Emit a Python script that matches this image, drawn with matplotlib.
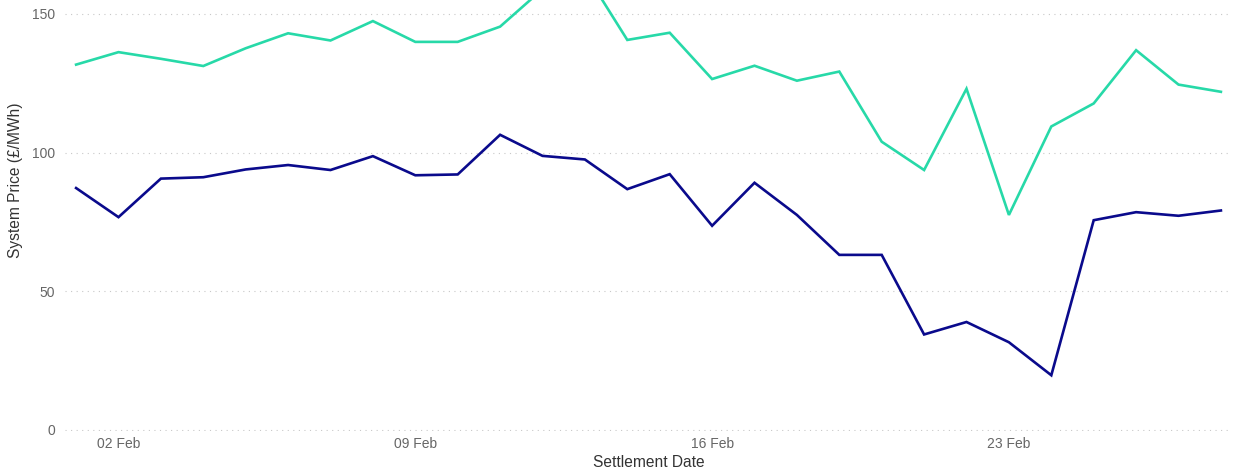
import pandas as pd
import matplotlib.pyplot as plt
import matplotlib.dates as mdates

plt.rcParams['font.family'] = ['Liberation Sans', 'DejaVu Sans']

# Daten: Systempreis pro Tag (Feb)
dates = pd.date_range("2024-02-01", "2024-02-28", freq="D")
upper = [131.7, 136.2, 133.8, 131.2, 137.6, 143.0, 140.4, 147.4, 139.9, 139.9,
         145.4, 158.9, 165.0, 140.6, 143.2, 126.5, 131.3, 125.9, 129.2, 103.9,
         93.7, 123.0, 77.5, 109.4, 117.7, 136.9, 124.5, 121.9]
lower = [87.2, 76.7, 90.6, 91.1, 93.9, 95.5, 93.7, 98.7, 91.8, 92.1,
         106.4, 98.8, 97.5, 86.8, 92.2, 73.6, 89.1, 77.5, 63.1, 63.1,
         34.4, 38.9, 31.6, 19.7, 75.6, 78.5, 77.2, 79.1]
yticks = [0, 50, 100, 150]

fig = plt.figure(figsize=(12.35, 4.7), dpi=100)
ax = fig.add_axes([0.0526, 0.083, 0.945, 0.917])

ax.plot(dates, upper, color="#27D9A8", linewidth=1.9, solid_joinstyle="miter")
ax.plot(dates, lower, color="#0A0A8C", linewidth=1.9, solid_joinstyle="miter")

ax.set_ylim(-0.4, 155)
pad = pd.Timedelta(hours=6.3)
ax.set_xlim(dates[0] - pad, dates[-1] + pad)
ax.set_yticks(yticks)
ax.yaxis.grid(True, linestyle=(0, (1, 4)), color="#c8c8c8", linewidth=0.8)
ax.set_axisbelow(True)

ax.xaxis.set_major_locator(mdates.DayLocator(bymonthday=[2, 9, 16, 23]))
ax.xaxis.set_major_formatter(mdates.DateFormatter("%d %b"))

for s in ax.spines.values():
    s.set_visible(False)
ax.tick_params(axis="both", length=0, labelsize=10, colors="#666666")
ax.tick_params(axis="x", pad=4)
ax.tick_params(axis="y", pad=7)

ax.set_xlabel("Settlement Date", fontsize=11.2, color="#333333", labelpad=3)
# y-Label sitzt etwas oberhalb der Mitte
fig.text(16 / 1235, 1 - 180 / 470, "System Price (£/MWh)", rotation=90,
         fontsize=11.2, color="#333333", ha="center", va="center")

fig.savefig("out.png", dpi=100)
